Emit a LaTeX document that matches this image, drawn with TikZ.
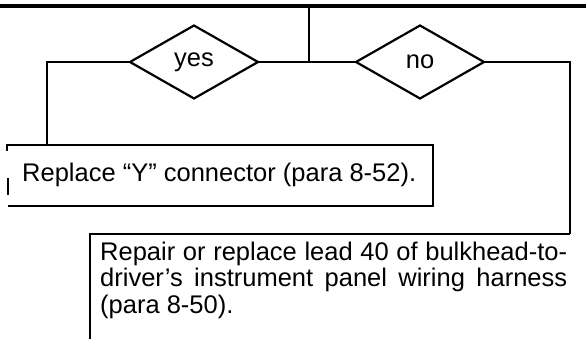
\documentclass[tikz,border=0pt]{standalone}
\usepackage{fontspec}
\setmainfont{Liberation Sans}
\usetikzlibrary{shapes.geometric}

\begin{document}
\begin{tikzpicture}[x=1pt, y=-1pt, line join=miter,
  every node/.style={font=\fontsize{25.5}{26.5}\selectfont, inner sep=0pt},
  choice/.style={diamond, draw, line width=2.2pt, minimum width=128pt,
    minimum height=73pt, outer sep=0pt},
  wire/.style={line width=2.2pt}]
  \useasboundingbox (0,0) rectangle (586,339);
  % heavy rule across the top
  \draw[line width=3.5pt] (0,6) -- (586,6);
  % the two answers
  \node[choice] (yes) at (194,62) {yes};
  \node[choice] (no) at (420,62) {no};
  \coordinate (feed) at (309,6);
  \coordinate (split) at (309,62);
  \coordinate (left) at (47,145);
  \coordinate (right) at (570,234);
  \draw[wire] (feed) -- (split);
  \draw[wire] (yes.east) -- (no.west);
  \draw[wire] (yes.west) -| (left);
  \draw[wire] (no.east) -| (right);
  % box for the yes branch
  \draw[wire] (7,151) -- (7,145) -- (433,145) -- (433,206) -- (8,206);
  \draw[wire] (8,178) -- (8,195);
  \node[anchor=base west] (replace) at (22,182) {Replace “Y” connector (para 8-52).};
  % box for the no branch
  \draw[wire] (90,339) -- (90,234) -- (right);
  \node[anchor=base west, text width=467pt, align=justify] (repair) at (100,260)
    {Repair or replace lead 40 of bulkhead-to-driver’s instrument panel wiring harness (para 8-50).};
\end{tikzpicture}
\end{document}
